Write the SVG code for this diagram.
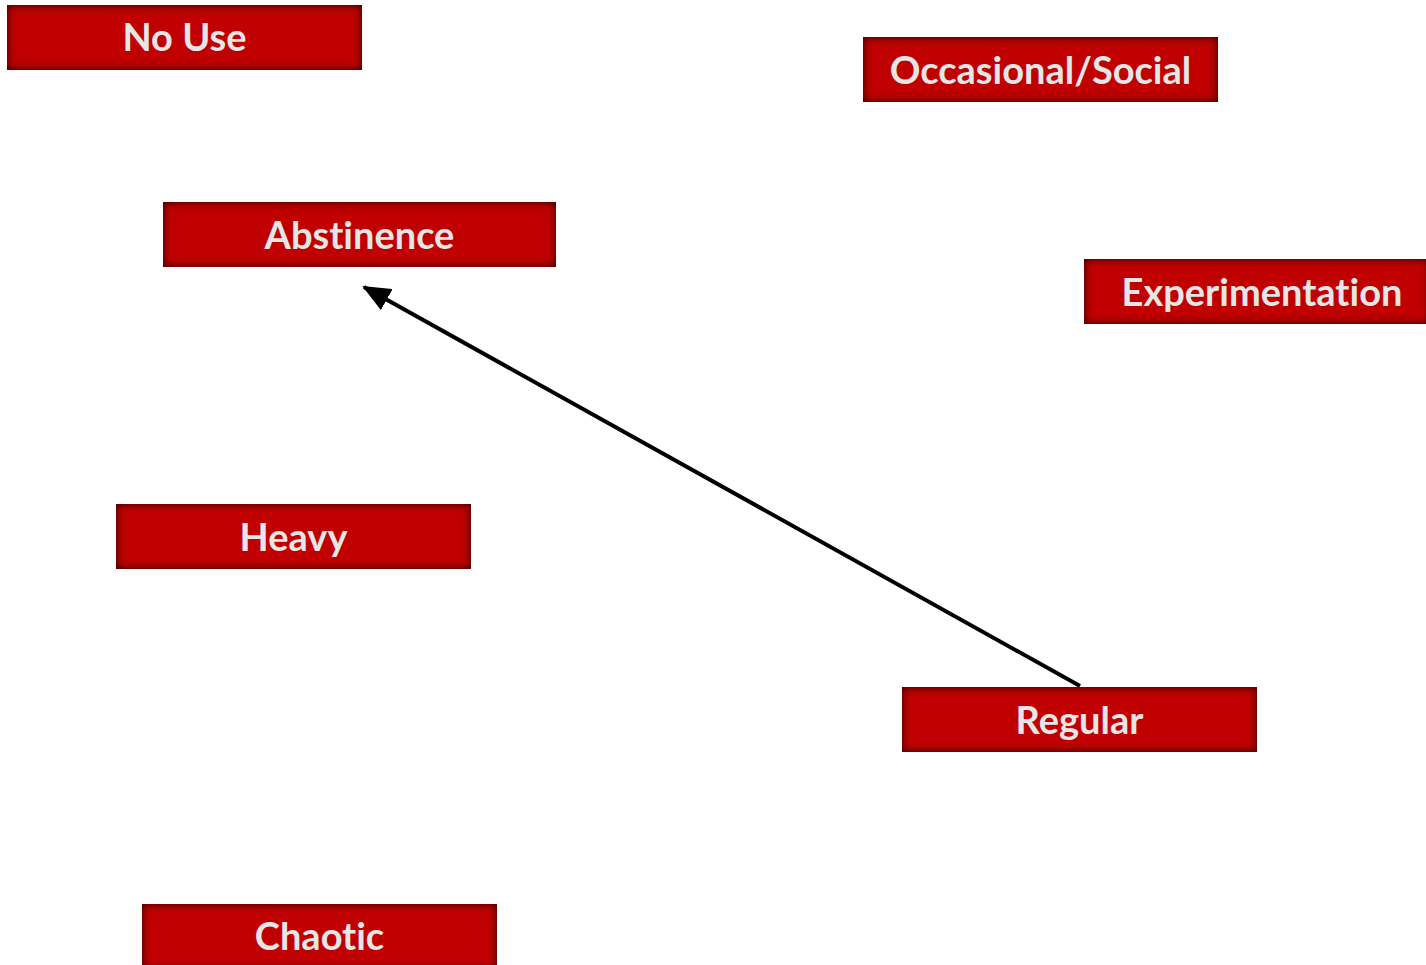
<svg xmlns="http://www.w3.org/2000/svg" width="1426" height="965" viewBox="0 0 1426 965">
<style>
.box{fill:#c00000;filter:url(#inner)}
.lbl{font-family:Lato,"Open Sans","Liberation Sans",sans-serif;font-weight:bold;font-size:38px;fill:#e6e6e6;text-anchor:middle;font-variant-ligatures:none}
.conn{stroke:#000;stroke-width:4;fill:none}
</style>
<defs>
<filter id="inner" x="-5%" y="-15%" width="110%" height="130%">
<feFlood flood-color="#400000" result="c"/>
<feComposite in="c" in2="SourceAlpha" operator="out" result="outside"/>
<feGaussianBlur in="outside" stdDeviation="4" result="b"/>
<feComposite in="b" in2="SourceAlpha" operator="in" result="sh"/>
<feMerge><feMergeNode in="SourceGraphic"/><feMergeNode in="sh"/><feMergeNode in="sh"/></feMerge>
</filter>
<marker id="arrow" markerWidth="28" markerHeight="24" refX="26" refY="12" orient="auto" markerUnits="userSpaceOnUse">
<path d="M0,0 L28,12 L0,24 z" fill="#000"/>
</marker>
</defs>
<rect width="1426" height="965" fill="#fff"/>
<g id="connectors">
<line class="conn" x1="1080" y1="686" x2="364" y2="287" marker-end="url(#arrow)"/>
</g>
<g id="no-use"><rect class="box" x="7" y="5" width="355" height="65"/><text class="lbl" x="184.5" y="51">No Use</text></g>
<g id="occasional-social"><rect class="box" x="863" y="37" width="355" height="65"/><text class="lbl" x="1040.5" y="84">Occasional/Social</text></g>
<g id="abstinence"><rect class="box" x="163" y="202" width="393" height="65"/><text class="lbl" x="359.5" y="249">Abstinence</text></g>
<g id="experimentation"><rect class="box" x="1084" y="259" width="346" height="65"/><text class="lbl" x="1262" y="306">Experimentation</text></g>
<g id="heavy"><rect class="box" x="116" y="504" width="355" height="65"/><text class="lbl" x="293.5" y="551">Heavy</text></g>
<g id="regular"><rect class="box" x="902" y="687" width="355" height="65"/><text class="lbl" x="1079.5" y="734">Regular</text></g>
<g id="chaotic"><rect class="box" x="142" y="904" width="355" height="65"/><text class="lbl" x="319.5" y="950">Chaotic</text></g>
</svg>
